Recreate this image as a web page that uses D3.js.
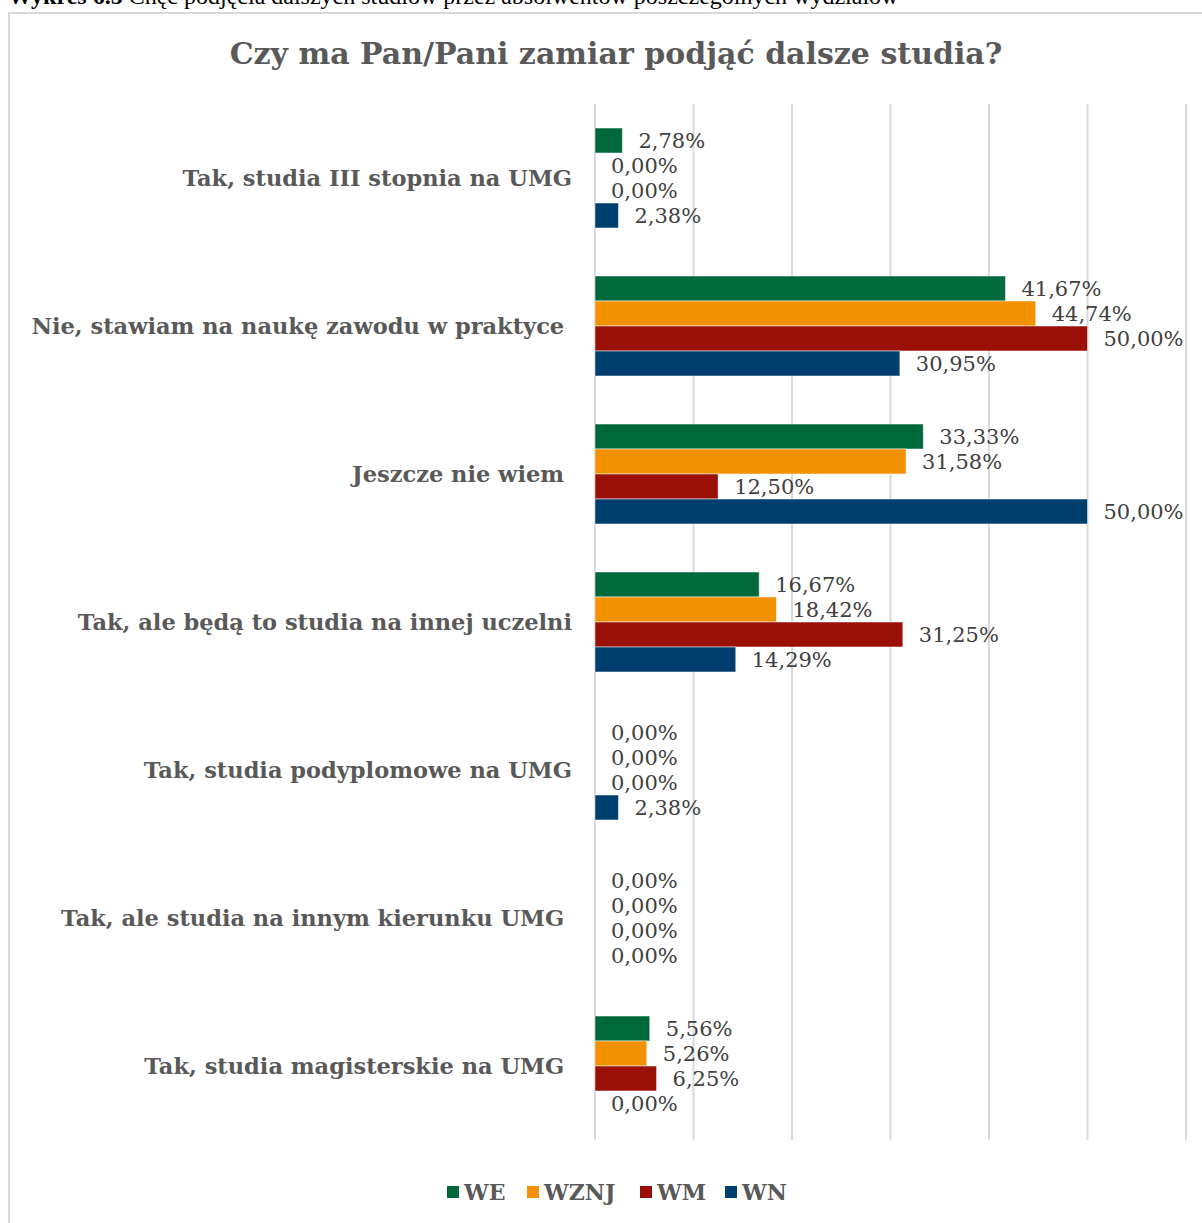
<!DOCTYPE html>
<html>
<head>
<meta charset="utf-8">
<script src="https://cdn.jsdelivr.net/npm/d3@7"></script>
<style>
  body { margin: 0; background: #fff; }
  svg { display: block; }
  text { white-space: pre; }
</style>
</head>
<body>
<div id="chart"></div>
<script>
const categories = [
    "Tak, studia III stopnia na UMG",
    "Nie, stawiam na naukę zawodu w praktyce ",
    "Jeszcze nie wiem ",
    "Tak, ale będą to studia na innej uczelni",
    "Tak, studia podyplomowe na UMG",
    "Tak, ale studia na innym kierunku UMG ",
    "Tak, studia magisterskie na UMG "
];
const seriesNames = ["WE", "WZNJ", "WM", "WN"];
const seriesColors = ["#00693c", "#f39200", "#9b1006", "#003e6e"];
const valuesWE = [2.78, 41.67, 33.33, 16.67, 0, 0, 5.56];
const valuesWZNJ = [0, 44.74, 31.58, 18.42, 0, 0, 5.26];
const valuesWM = [0, 50.00, 12.50, 31.25, 0, 0, 6.25];
const valuesWN = [2.38, 30.95, 50.00, 14.29, 2.38, 0, 0];
const xTicks = [0, 10, 20, 30, 40, 50, 60];

const W = 1202, H = 1223;
const plot = { left: 595, right: 1186, top: 104, bottom: 1140 };

const svg = d3.select("#chart").append("svg")
    .attr("width", W)
    .attr("height", H);

// caption above the chart (cut off by the page edge, as in the source)
const cap = svg.append("text")
    .attr("x", 8)
    .attr("y", 4)
    .attr("font-family", "Liberation Serif")
    .attr("font-size", 24)
    .attr("fill", "#000");
cap.append("tspan").attr("font-weight", "bold").text("Wykres 6.5 ");
cap.append("tspan").text("Chęć podjęcia dalszych studiów przez absolwentów poszczególnych wydziałów");

svg.append("rect")
    .attr("x", 9)
    .attr("y", 13)
    .attr("width", 1220)
    .attr("height", 1240)
    .attr("fill", "#fff")
    .attr("stroke", "#d9d9d9")
    .attr("stroke-width", 2);

svg.append("text")
    .attr("x", 616)
    .attr("y", 64)
    .attr("text-anchor", "middle")
    .attr("font-family", "DejaVu Serif")
    .attr("font-weight", "bold")
    .attr("font-size", 30)
    .attr("fill", "#595959")
    .text("Czy ma Pan/Pani zamiar podjąć dalsze studia?");

const x = d3.scaleLinear().domain([0, 60]).range([plot.left, plot.right]);
const y0 = d3.scaleBand().domain(categories).range([plot.top, plot.bottom]);
const y1 = d3.scaleBand().domain(seriesNames).range([0, 100]);

svg.append("g").selectAll("line")
    .data(xTicks)
    .enter()
    .append("line")
    .attr("x1", d => x(d))
    .attr("x2", d => x(d))
    .attr("y1", plot.top)
    .attr("y2", plot.bottom)
    .attr("stroke", "#d9d9d9")
    .attr("stroke-width", 2);

const allSeries = [valuesWE, valuesWZNJ, valuesWM, valuesWN];
const rows = [];
categories.forEach((c, i) => {
    seriesNames.forEach((s, j) => {
        rows.push({ cat: c, series: s, color: seriesColors[j], value: allSeries[j][i] });
    });
});

const groupOffset = (y0.bandwidth() - 100) / 2;

svg.append("g").selectAll("rect")
    .data(rows.filter(d => d.value > 0))
    .enter()
    .append("rect")
    .attr("x", x(0))
    .attr("y", d => y0(d.cat) + groupOffset + y1(d.series))
    .attr("width", d => x(d.value) - x(0))
    .attr("height", y1.bandwidth())
    .attr("fill", d => d.color)
    .attr("stroke", "#ffffff")
    .attr("stroke-opacity", 0.5)
    .attr("stroke-width", 1);

svg.append("g").selectAll("text")
    .data(rows)
    .enter()
    .append("text")
    .attr("x", d => x(d.value) + 16)
    .attr("y", d => y0(d.cat) + groupOffset + y1(d.series) + y1.bandwidth() / 2)
    .attr("dy", "0.38em")
    .attr("font-family", "DejaVu Serif")
    .attr("font-size", 21)
    .attr("fill", "#404040")
    .text(d => d.value.toFixed(2).replace(".", ",") + "%");

svg.append("g").selectAll("text")
    .data(categories)
    .enter()
    .append("text")
    .attr("x", 572)
    .attr("y", d => y0(d) + y0.bandwidth() / 2)
    .attr("dy", "0.36em")
    .attr("text-anchor", "end")
    .attr("font-family", "DejaVu Serif")
    .attr("font-weight", "bold")
    .attr("font-size", 22.5)
    .attr("fill", "#595959")
    .text(d => d);

// legend
const legendX = [447, 527, 640, 725];
const legend = svg.append("g").selectAll("g")
    .data(seriesNames)
    .enter()
    .append("g")
    .attr("transform", (d, i) => `translate(${legendX[i]},1186)`);
legend.append("rect")
    .attr("width", 12)
    .attr("height", 12)
    .attr("fill", (d, i) => seriesColors[i]);
legend.append("text")
    .attr("x", 17)
    .attr("y", 6)
    .attr("dy", "0.36em")
    .attr("font-family", "DejaVu Serif")
    .attr("font-weight", "bold")
    .attr("font-size", 22)
    .attr("fill", "#595959")
    .text(d => d);
</script>
</body>
</html>
